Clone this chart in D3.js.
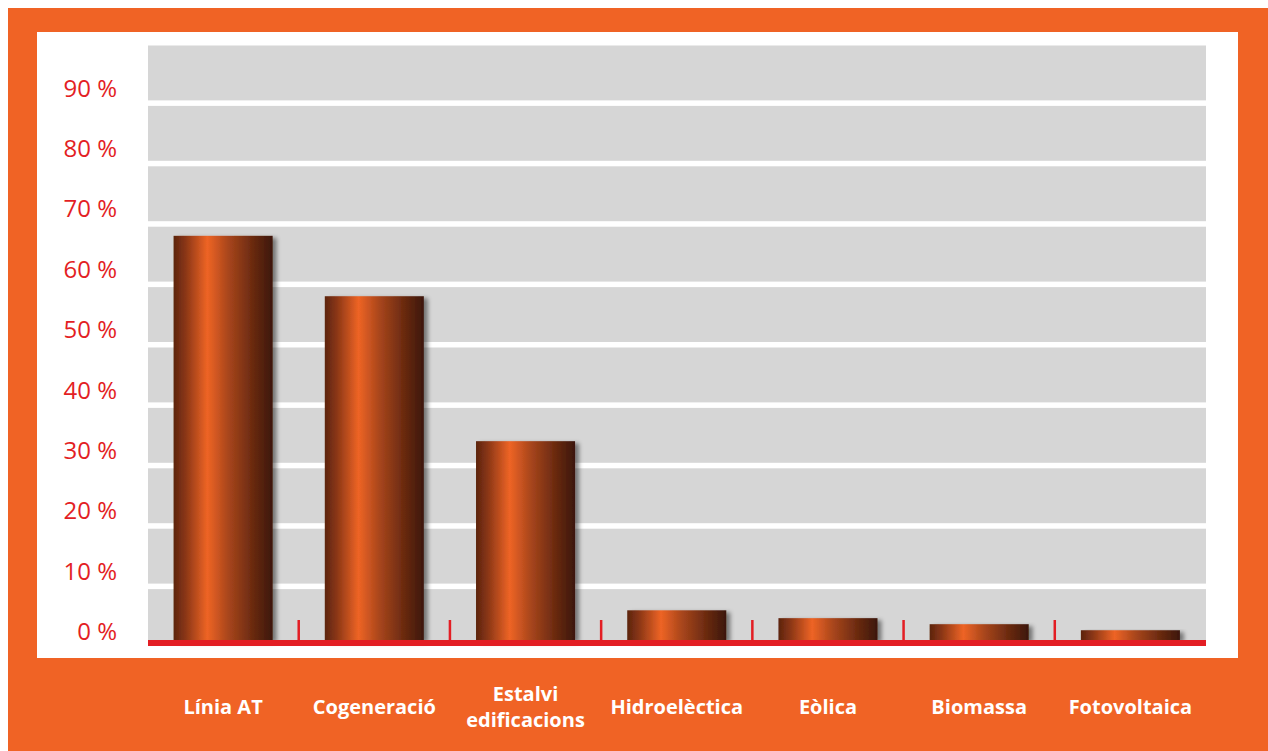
<!DOCTYPE html>
<html>
<head>
<meta charset="utf-8">
<script src="https://cdn.jsdelivr.net/npm/d3@7"></script>
<style>
  html, body { margin: 0; padding: 0; background: #ffffff; }
  svg { display: block; }
</style>
</head>
<body>
<svg id="chart" width="1268" height="751"></svg>
<script>
// Share of each technology (%)
const categories = ["Línia AT", "Cogeneració", "Estalvi edificacions", "Hidroelèctica", "Eòlica", "Biomassa", "Fotovoltaica"];
const labelLines = [["Línia AT"], ["Cogeneració"], ["Estalvi", "edificacions"], ["Hidroelèctica"], ["Eòlica"], ["Biomassa"], ["Fotovoltaica"]];
const values = [67, 57, 33, 5, 3.7, 2.7, 1.7];
const yTicks = [0, 10, 20, 30, 40, 50, 60, 70, 80, 90];

const W = 1268, H = 751;
const orange = "#f06325", red = "#e31e24", grey = "#d6d6d6";

const svg = d3.select("#chart");

// defs: cylinder gradient and right-side shadow for the bars
const defs = svg.append("defs");
const grad = defs.append("linearGradient").attr("id", "cyl")
  .attr("x1", "0%").attr("x2", "100%").attr("y1", "0%").attr("y2", "0%");
[["0%", "#5c240e"], ["12%", "#8a3616"], ["34%", "#ee6425"], ["55%", "#a9461c"], ["80%", "#6a2a10"], ["100%", "#3c1709"]]
  .forEach(([o, c]) => grad.append("stop").attr("offset", o).attr("stop-color", c));
const shadow = defs.append("filter").attr("id", "shadow")
  .attr("x", "-10%").attr("y", "-10%").attr("width", "130%").attr("height", "130%");
shadow.append("feDropShadow").attr("dx", 4).attr("dy", 2).attr("stdDeviation", 2)
  .attr("flood-color", "#000").attr("flood-opacity", 0.45);

// frame
svg.append("rect").attr("x", 8).attr("y", 8).attr("width", W - 8).attr("height", H - 8).attr("fill", orange);
svg.append("rect").attr("x", 37).attr("y", 32).attr("width", 1201).attr("height", 626).attr("fill", "#ffffff");

// scales
const plotLeft = 148, plotRight = 1206;
const y = d3.scaleLinear().domain([0, 90]).range([640.5, 640.5 - 9 * 60.4]);
const x = d3.scaleBand().domain(categories).range([147.5, 1206])
  .paddingInner(0.345).paddingOuter(0.345 / 2);

// grey bands, one per 10 % step, separated by white gaps
const bandSteps = d3.range(0, 100, 10);
svg.append("g").selectAll("rect").data(bandSteps).join("rect")
  .attr("x", plotLeft)
  .attr("width", plotRight - plotLeft)
  .attr("y", d => y(d + 10) + 9)
  .attr("height", d => (d === 0 ? y(0) : y(d) + 3.5) - (y(d + 10) + 9))
  .attr("fill", grey);

// y axis labels
const yAxis = d3.axisLeft(y).tickValues(yTicks).tickFormat(d => d + " %").tickSize(0).tickPadding(0);
const gy = svg.append("g").attr("transform", "translate(117,0)").call(yAxis);
gy.select(".domain").remove();
gy.selectAll("text")
  .attr("y", -8.5)
  .attr("fill", red)
  .style("font-family", "'Open Sans', sans-serif")
  .style("font-size", "24px");

// bars
svg.append("g").selectAll("rect").data(categories).join("rect")
  .attr("x", d => x(d))
  .attr("width", x.bandwidth())
  .attr("y", (d, i) => y(values[i]))
  .attr("height", (d, i) => y(0) - y(values[i]))
  .attr("fill", "url(#cyl)")
  .attr("filter", "url(#shadow)");

// baseline and category separators
svg.append("rect").attr("x", plotLeft).attr("y", 640).attr("width", plotRight - plotLeft).attr("height", 6).attr("fill", red);
const seps = d3.range(1, categories.length).map(i => x.range()[0] + i * x.step());
svg.append("g").selectAll("rect").data(seps).join("rect")
  .attr("x", d => d - 1.25).attr("y", 620).attr("width", 2.5).attr("height", 21)
  .attr("fill", red);

// category labels
const gl = svg.append("g")
  .style("font-family", "'Open Sans', sans-serif")
  .style("font-size", "20px")
  .style("font-weight", "700")
  .attr("fill", "#ffffff")
  .attr("text-anchor", "middle");
gl.selectAll("text").data(categories).join("text")
  .attr("x", d => x(d) + x.bandwidth() / 2)
  .attr("y", (d, i) => labelLines[i].length > 1 ? 700.5 : 714)
  .each(function(d, i) {
    const t = d3.select(this);
    labelLines[i].forEach((line, j) => {
      t.append("tspan").attr("x", x(d) + x.bandwidth() / 2).attr("dy", j === 0 ? 0 : 26).text(line);
    });
  });
</script>
</body>
</html>
